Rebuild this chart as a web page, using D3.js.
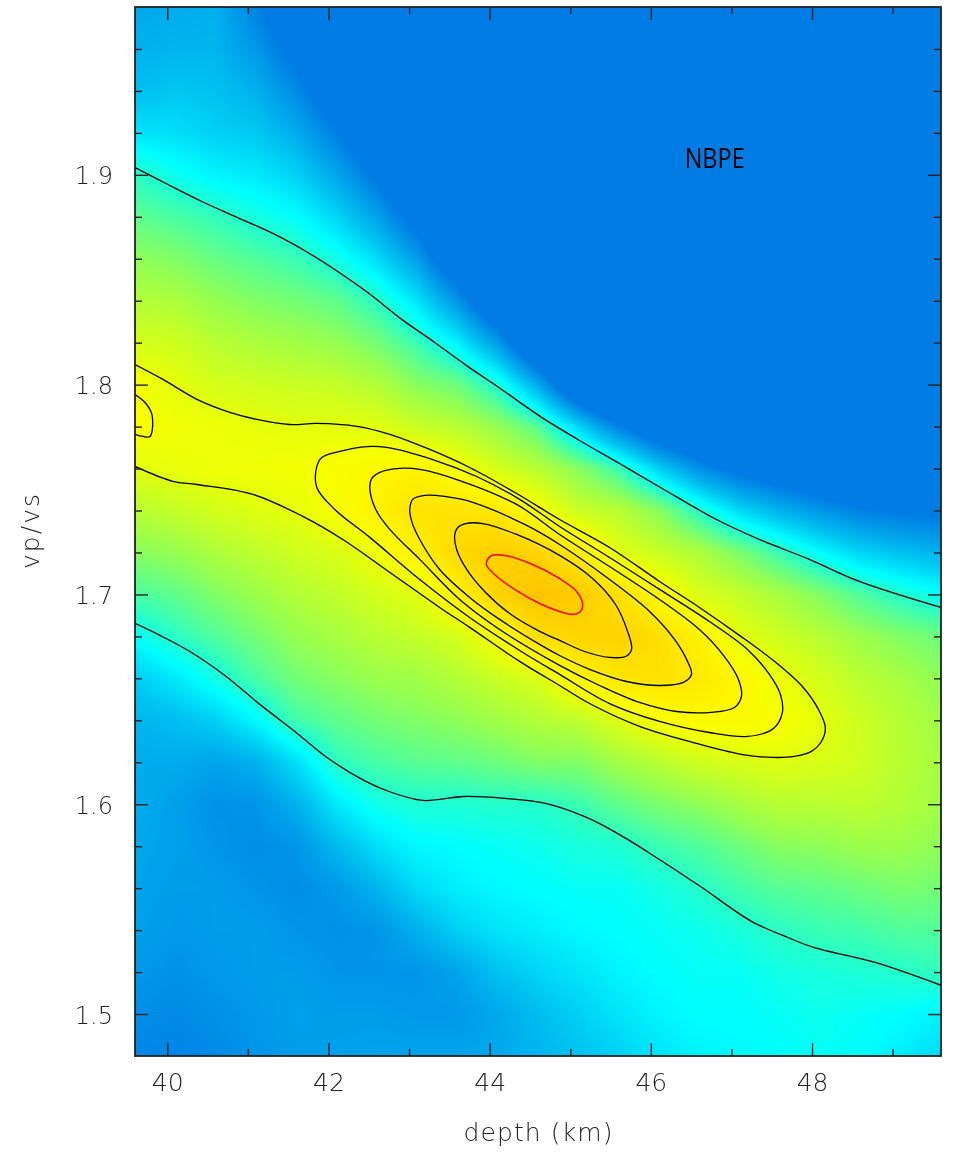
<!DOCTYPE html>
<html>
<head>
<meta charset="utf-8">
<script src="https://cdn.jsdelivr.net/npm/d3@7/dist/d3.min.js"></script>
<style>
html,body{margin:0;padding:0;background:#ffffff;}
#wrap{position:relative;width:963px;height:1153px;overflow:hidden;background:#fff;}
#heat{position:absolute;}
#chart{position:absolute;left:0;top:0;}
</style>
</head>
<body>
<div id="wrap"><canvas id="heat"></canvas><svg id="chart" width="963" height="1153"></svg></div>
<script>
// ================= DATA =================
// grid nodes of the stacking surface
const depthNodes = [39.6,40.1,40.6,41.1,41.6,42.1,42.6,43.1,43.6,44.1,44.6,45.1,45.6,46.1,46.6,47.1,47.6,48.1,48.6,49.1,49.6];
const vpvsNodes = [1.98,1.96,1.94,1.92,1.90,1.88,1.86,1.84,1.82,1.80,1.78,1.76,1.74,1.72,1.70,1.68,1.66,1.64,1.62,1.60,1.58,1.56,1.54,1.52,1.50,1.48];
// normalised stack amplitude, one column per depth node, rows follow vpvsNodes
// (values below the lowest colour stop all show as the same deep blue)
const stackByDepth = [
 [0.18,0.20,0.23,0.31,0.43,0.50,0.57,0.63,0.69,0.765,0.775,0.715,0.64,0.56,0.47,0.37,0.26,0.21,0.19,0.19,0.18,0.17,0.16,0.14,0.115,0.09],
 [0.19,0.21,0.25,0.30,0.38,0.47,0.55,0.62,0.68,0.725,0.755,0.73,0.66,0.58,0.50,0.43,0.32,0.23,0.19,0.16,0.16,0.15,0.14,0.12,0.10,0.085],
 [0.20,0.21,0.24,0.27,0.34,0.44,0.51,0.58,0.64,0.69,0.745,0.75,0.69,0.62,0.55,0.48,0.39,0.27,0.17,0.12,0.13,0.15,0.15,0.14,0.12,0.10],
 [0.08,0.14,0.20,0.255,0.32,0.395,0.48,0.55,0.62,0.68,0.73,0.755,0.71,0.65,0.59,0.53,0.47,0.35,0.20,0.13,0.11,0.13,0.15,0.15,0.14,0.13],
 [-0.07,0.02,0.105,0.19,0.275,0.36,0.45,0.53,0.60,0.67,0.72,0.76,0.725,0.68,0.63,0.58,0.53,0.46,0.30,0.20,0.13,0.11,0.13,0.15,0.16,0.15],
 [-0.25,-0.142,-0.036,0.07,0.177,0.283,0.39,0.50,0.58,0.66,0.72,0.78,0.775,0.70,0.655,0.61,0.56,0.50,0.43,0.32,0.22,0.14,0.12,0.13,0.15,0.16],
 [-0.45,-0.35,-0.22,-0.09,0.039,0.168,0.297,0.43,0.53,0.63,0.715,0.80,0.825,0.745,0.69,0.64,0.59,0.53,0.47,0.39,0.30,0.21,0.13,0.13,0.15,0.17],
 [-0.45,-0.45,-0.45,-0.31,-0.157,0.0,0.156,0.312,0.45,0.56,0.67,0.82,0.88,0.83,0.715,0.66,0.60,0.55,0.49,0.41,0.35,0.29,0.20,0.13,0.14,0.17],
 [-0.45,-0.45,-0.45,-0.45,-0.45,-0.275,-0.071,0.133,0.337,0.52,0.64,0.765,0.875,0.915,0.82,0.69,0.63,0.57,0.50,0.41,0.36,0.33,0.27,0.17,0.14,0.17],
 [-0.45,-0.45,-0.45,-0.45,-0.45,-0.45,-0.37,-0.108,0.15,0.408,0.58,0.69,0.86,0.955,0.94,0.77,0.67,0.60,0.52,0.42,0.37,0.35,0.31,0.24,0.18,0.18],
 [-0.45,-0.45,-0.45,-0.45,-0.45,-0.45,-0.45,-0.45,-0.14,0.187,0.49,0.64,0.765,0.935,0.995,0.90,0.70,0.63,0.55,0.42,0.38,0.36,0.33,0.28,0.23,0.21],
 [-0.45,-0.45,-0.45,-0.45,-0.45,-0.45,-0.45,-0.45,-0.45,-0.124,0.284,0.56,0.67,0.85,0.97,0.93,0.81,0.65,0.55,0.45,0.40,0.37,0.35,0.31,0.27,0.24],
 [-0.45,-0.45,-0.45,-0.45,-0.45,-0.45,-0.45,-0.45,-0.45,-0.31,0.079,0.45,0.64,0.715,0.89,0.935,0.87,0.71,0.60,0.50,0.41,0.37,0.36,0.34,0.31,0.27],
 [-0.45,-0.45,-0.45,-0.45,-0.45,-0.45,-0.45,-0.45,-0.45,-0.43,-0.08,0.27,0.56,0.67,0.80,0.895,0.885,0.77,0.64,0.54,0.45,0.39,0.37,0.36,0.34,0.31],
 [-0.45,-0.45,-0.45,-0.45,-0.45,-0.45,-0.45,-0.45,-0.45,-0.45,-0.185,0.121,0.42,0.62,0.70,0.825,0.86,0.795,0.68,0.57,0.48,0.42,0.38,0.37,0.36,0.34],
 [-0.45,-0.45,-0.45,-0.45,-0.45,-0.45,-0.45,-0.45,-0.45,-0.45,-0.254,0.018,0.29,0.54,0.66,0.72,0.81,0.79,0.70,0.61,0.52,0.46,0.40,0.37,0.36,0.35],
 [-0.45,-0.45,-0.45,-0.45,-0.45,-0.45,-0.45,-0.45,-0.45,-0.45,-0.285,-0.04,0.204,0.45,0.61,0.68,0.735,0.775,0.71,0.64,0.56,0.49,0.43,0.39,0.37,0.36],
 [-0.45,-0.45,-0.45,-0.45,-0.45,-0.45,-0.45,-0.45,-0.45,-0.45,-0.31,-0.089,0.134,0.356,0.55,0.64,0.69,0.725,0.70,0.64,0.57,0.50,0.45,0.40,0.38,0.37],
 [-0.45,-0.45,-0.45,-0.45,-0.45,-0.45,-0.45,-0.45,-0.45,-0.45,-0.33,-0.129,0.075,0.279,0.48,0.59,0.645,0.675,0.68,0.65,0.59,0.52,0.46,0.41,0.37,0.36],
 [-0.45,-0.45,-0.45,-0.45,-0.45,-0.45,-0.45,-0.45,-0.45,-0.45,-0.315,-0.131,0.053,0.236,0.42,0.55,0.61,0.635,0.64,0.63,0.59,0.54,0.48,0.42,0.36,0.33],
 [-0.45,-0.45,-0.45,-0.45,-0.45,-0.45,-0.45,-0.45,-0.45,-0.45,-0.30,-0.133,0.034,0.201,0.368,0.52,0.57,0.60,0.61,0.60,0.57,0.53,0.48,0.44,0.34,0.29]
];
// colour table for the surface
const colourStops = [0.06,0.12,0.18,0.25,0.31,0.36,0.42,0.50,0.58,0.65,0.72,0.77,0.82,0.87,0.92,1.00];
const colourValues = ["#007ce4","#0091e8","#00a8ec","#00c6f2","#00e4fa","#00ffff","#23ffcd","#5fff8c","#96ff50","#beff2d","#e4ff0c","#f8ff00","#fff400","#ffe600","#ffd700","#ffc300"];

// contour lines (depth km, vp/vs)
const contour1Upper = [[39.6,1.9035],[40.009,1.8954],[40.43,1.8873],[40.839,1.8802],[41.335,1.8716],[41.744,1.863],[42.079,1.8549],[42.488,1.8439],[42.91,1.8311],[43.319,1.8201],[43.728,1.8087],[44.149,1.7977],[44.645,1.7844],[45.116,1.7734],[45.612,1.7624],[46.12,1.751],[46.814,1.7357],[47.347,1.7262],[47.967,1.7167],[48.587,1.7062],[49.6,1.6938]];
const contour1Lower = [[39.6,1.6862],[39.91,1.6805],[40.281,1.6728],[40.715,1.6614],[41.149,1.6476],[41.583,1.6347],[42.017,1.6213],[42.463,1.6109],[42.786,1.6056],[43.17,1.6018],[43.38,1.6023],[43.678,1.6037],[44.186,1.6028],[44.694,1.6004],[45.203,1.5937],[45.649,1.5847],[45.971,1.577],[46.616,1.5608],[47.248,1.5442],[47.694,1.5366],[48.017,1.5318],[48.773,1.5247],[49.6,1.5137]];
const contour2 = [[39.6,1.8096],[39.947,1.8025],[40.368,1.793],[40.777,1.7868],[41.112,1.7834],[41.521,1.781],[41.856,1.7815],[42.352,1.7801],[42.761,1.7763],[43.257,1.7691],[43.752,1.7605],[44.335,1.7481],[44.868,1.7357],[45.488,1.7224],[46.108,1.7062],[46.603,1.6938],[47.099,1.6805],[47.533,1.6681],[47.88,1.6561],[48.079,1.6452],[48.165,1.6366],[48.116,1.6299],[47.992,1.6252],[47.781,1.6228],[47.508,1.6223],[47.137,1.6237],[46.517,1.6295],[45.86,1.6371],[45.24,1.648],[44.868,1.6566],[44.372,1.6681],[43.752,1.6843],[43.38,1.6938],[42.798,1.7095],[42.178,1.7262],[41.682,1.7372],[41.062,1.7477],[40.368,1.7524],[40.071,1.7539],[39.6,1.761]];
const contour3Edge = [[39.6,1.7953],[39.724,1.7915],[39.81,1.7858],[39.787,1.7753],[39.7,1.7753],[39.6,1.7763]];
const contour3 = [[41.856,1.751],[41.856,1.761],[41.918,1.7653],[42.141,1.7682],[42.476,1.7705],[42.723,1.7701],[43.294,1.7643],[43.839,1.7562],[44.372,1.7453],[44.868,1.7324],[45.488,1.7176],[46.108,1.7024],[46.727,1.6871],[47.199,1.6738],[47.471,1.6619],[47.608,1.6523],[47.632,1.6438],[47.521,1.6361],[47.199,1.6323],[46.727,1.6342],[46.108,1.6395],[45.488,1.648],[44.868,1.6619],[44.372,1.6733],[43.752,1.689],[43.133,1.7071],[42.513,1.7272],[42.079,1.7405]];
const contour4 = [[42.513,1.751],[42.538,1.7553],[42.637,1.7582],[42.885,1.7601],[43.133,1.7596],[43.628,1.7543],[44.335,1.7429],[44.868,1.7286],[45.488,1.7133],[46.108,1.6976],[46.603,1.6833],[46.913,1.6704],[47.087,1.6595],[47.124,1.6514],[47.037,1.6461],[46.752,1.6438],[46.318,1.6442],[45.86,1.6485],[45.364,1.6566],[44.868,1.6662],[44.124,1.6833],[43.628,1.6976],[43.133,1.7167],[42.761,1.731],[42.587,1.7405]];
const contour5 = [[43.009,1.7405],[43.046,1.7453],[43.195,1.7472],[43.442,1.7467],[43.79,1.7439],[44.459,1.7329],[44.868,1.7238],[45.488,1.7071],[45.984,1.6919],[46.294,1.6786],[46.455,1.6681],[46.504,1.6619],[46.405,1.6581],[46.108,1.6566],[45.699,1.6585],[45.24,1.6643],[44.868,1.6709],[44.62,1.6762],[44.124,1.6881],[43.752,1.6986],[43.38,1.7119],[43.133,1.7262],[43.033,1.7348]];
const contour6 = [[43.566,1.7281],[43.604,1.7319],[43.703,1.7338],[43.913,1.7338],[44.335,1.7286],[44.868,1.7186],[45.277,1.7076],[45.562,1.6952],[45.711,1.6824],[45.761,1.6738],[45.686,1.6704],[45.488,1.67],[45.178,1.6728],[44.868,1.6781],[44.62,1.6824],[44.248,1.6909],[43.938,1.7014],[43.715,1.7119],[43.591,1.7214]];
const contour7 = [[43.963,1.7157],[44.025,1.7186],[44.186,1.7186],[44.533,1.7143],[44.868,1.7076],[45.079,1.7014],[45.153,1.6957],[45.128,1.6919],[45.017,1.6905],[44.868,1.6919],[44.62,1.6957],[44.31,1.7024],[44.062,1.7095],[43.963,1.7138]];

// axes
const depthDomain = [39.6,49.6];
const vpvsDomain = [1.48,1.98];
const depthMajorTicks = [40,42,44,46,48];
const depthMinorTicks = [41,43,45,47,49];
const vpvsMajorTicks = [1.5,1.6,1.7,1.8,1.9];
const vpvsMinorTicks = [1.52,1.54,1.56,1.58,1.62,1.64,1.66,1.68,1.72,1.74,1.76,1.78,1.82,1.84,1.86,1.88,1.92,1.94,1.96];
const xTitle = "depth (km)";
const yTitle = "vp/vs";
const stationLabel = "NBPE";
const stationLabelAt = [46.42, 1.9];

// ================= DRAW =================
(function draw() {
const x = d3.scaleLinear().domain(depthDomain).range([135,941]);
const y = d3.scaleLinear().domain(vpvsDomain).range([1056,7]);

// --- surface on canvas ---
const pLeft = x(depthDomain[0]), pTop = y(vpvsDomain[1]);
const pw = Math.round(x(depthDomain[1]) - pLeft), ph = Math.round(y(vpvsDomain[0]) - pTop);
const canvas = document.getElementById("heat");
canvas.width = pw; canvas.height = ph;
canvas.style.left = pLeft + "px"; canvas.style.top = pTop + "px";
const ctx = canvas.getContext("2d");
const img = ctx.createImageData(pw, ph);
const colIdx = d3.scaleLinear().domain([depthNodes[0], depthNodes[depthNodes.length-1]]).range([0, depthNodes.length-1]).clamp(true);
const rowIdx = d3.scaleLinear().domain([vpvsNodes[0], vpvsNodes[vpvsNodes.length-1]]).range([0, vpvsNodes.length-1]).clamp(true);
const colour = d3.scaleLinear().domain(colourStops).range(colourValues).interpolate(d3.interpolateRgb).clamp(true);
const lut = [];
for (let k = 0; k <= 1000; k++) { const c = d3.rgb(colour(k/1000)); lut.push([c.r, c.g, c.b]); }
const nC = depthNodes.length, nR = vpvsNodes.length;
for (let py = 0; py < ph; py++) {
  const r = rowIdx(y.invert(pTop + py + 0.5));
  let r0 = Math.floor(r); if (r0 >= nR-1) r0 = nR-2;
  const fr = r - r0;
  for (let px = 0; px < pw; px++) {
    const c = colIdx(x.invert(pLeft + px + 0.5));
    let c0 = Math.floor(c); if (c0 >= nC-1) c0 = nC-2;
    const fc = c - c0;
    const a = stackByDepth[c0][r0], b = stackByDepth[c0+1][r0];
    const cc = stackByDepth[c0][r0+1], d = stackByDepth[c0+1][r0+1];
    const v = (a*(1-fc) + b*fc)*(1-fr) + (cc*(1-fc) + d*fc)*fr;
    const col = lut[Math.max(0, Math.min(1000, Math.round(v*1000)))];
    const o = (py*pw + px)*4;
    img.data[o] = col[0]; img.data[o+1] = col[1]; img.data[o+2] = col[2]; img.data[o+3] = 255;
  }
}
ctx.putImageData(img, 0, 0);

// --- svg overlay ---
const svg = d3.select("#chart");
svg.append("defs").append("clipPath").attr("id","plotclip")
  .append("rect").attr("x", pLeft).attr("y", pTop).attr("width", pw).attr("height", ph);

const line = d3.line().x(d => x(d[0])).y(d => y(d[1])).curve(d3.curveCatmullRom.alpha(0.5));
const lineClosed = d3.line().x(d => x(d[0])).y(d => y(d[1])).curve(d3.curveCatmullRomClosed.alpha(0.5));
const cg = svg.append("g").attr("clip-path","url(#plotclip)").attr("fill","none");
[contour1Upper, contour1Lower, contour2, contour3Edge].forEach(c =>
  cg.append("path").attr("d", line(c)).attr("stroke","#000").attr("stroke-width",1.3).attr("stroke-linejoin","round"));
[contour3, contour4, contour5, contour6].forEach(c =>
  cg.append("path").attr("d", lineClosed(c)).attr("stroke","#000").attr("stroke-width",1.3).attr("stroke-linejoin","round"));
cg.append("path").attr("d", lineClosed(contour7)).attr("stroke","#ff0000").attr("stroke-width",1.5);

// ticks (inward on all four sides)
const labelFont = '"DejaVu Sans Light","DejaVu Sans",sans-serif';
function styleAxis(g) {
  g.select(".domain").remove();
  g.selectAll(".tick line").attr("stroke","#222").attr("stroke-width",1.4);
  g.selectAll("text").attr("font-family", labelFont).attr("font-weight",200).attr("fill","#222");
}
svg.append("g").attr("transform",`translate(${pLeft},0)`)
  .call(d3.axisLeft(y).tickValues(vpvsMinorTicks).tickSize(-7).tickFormat("")).call(styleAxis);
svg.append("g").attr("transform",`translate(${pLeft},0)`)
  .call(d3.axisLeft(y).tickValues(vpvsMajorTicks).tickSize(-13).tickPadding(22).tickFormat(d3.format(".1f")))
  .call(styleAxis)
  .call(g => g.selectAll("text").attr("font-size",24).attr("dy","0.38em"));
svg.append("g").attr("transform",`translate(${pLeft+pw},0)`)
  .call(d3.axisRight(y).tickValues(vpvsMinorTicks).tickSize(-7).tickFormat("")).call(styleAxis);
svg.append("g").attr("transform",`translate(${pLeft+pw},0)`)
  .call(d3.axisRight(y).tickValues(vpvsMajorTicks).tickSize(-13).tickFormat("")).call(styleAxis);
svg.append("g").attr("transform",`translate(0,${pTop+ph})`)
  .call(d3.axisBottom(x).tickValues(depthMinorTicks).tickSize(-7).tickFormat("")).call(styleAxis);
svg.append("g").attr("transform",`translate(0,${pTop+ph})`)
  .call(d3.axisBottom(x).tickValues(depthMajorTicks).tickSize(-13).tickPadding(17).tickFormat(d3.format("d")))
  .call(styleAxis)
  .call(g => g.selectAll("text").attr("font-size",25));
svg.append("g").attr("transform",`translate(0,${pTop})`)
  .call(d3.axisTop(x).tickValues(depthMinorTicks).tickSize(-7).tickFormat("")).call(styleAxis);
svg.append("g").attr("transform",`translate(0,${pTop})`)
  .call(d3.axisTop(x).tickValues(depthMajorTicks).tickSize(-13).tickFormat("")).call(styleAxis);

// frame
svg.append("rect").attr("x", pLeft).attr("y", pTop).attr("width", pw).attr("height", ph)
  .attr("fill","none").attr("stroke","#222").attr("stroke-width",1.8);

// titles
svg.append("text").attr("x", (pLeft + pLeft + pw)/2).attr("y", 1141)
  .attr("text-anchor","middle").attr("font-family", labelFont).attr("font-weight",200)
  .attr("font-size",25).attr("fill","#222").attr("textLength",149).attr("lengthAdjust","spacing")
  .text(xTitle);
svg.append("text").attr("transform",`translate(39,${(pTop + pTop + ph)/2}) rotate(-90)`)
  .attr("text-anchor","middle").attr("font-family", labelFont).attr("font-weight",200)
  .attr("font-size",25).attr("fill","#222").attr("textLength",75).attr("lengthAdjust","spacing")
  .text(yTitle);
svg.append("text").attr("x", x(stationLabelAt[0])).attr("y", y(stationLabelAt[1]))
  .attr("font-family",'"Open Sans","Noto Sans",sans-serif').attr("font-size",27).attr("fill","#000")
  .attr("textLength",60).attr("lengthAdjust","spacingAndGlyphs")
  .attr("dy","-0.25em")
  .text(stationLabel);
})();
</script>
</body>
</html>
